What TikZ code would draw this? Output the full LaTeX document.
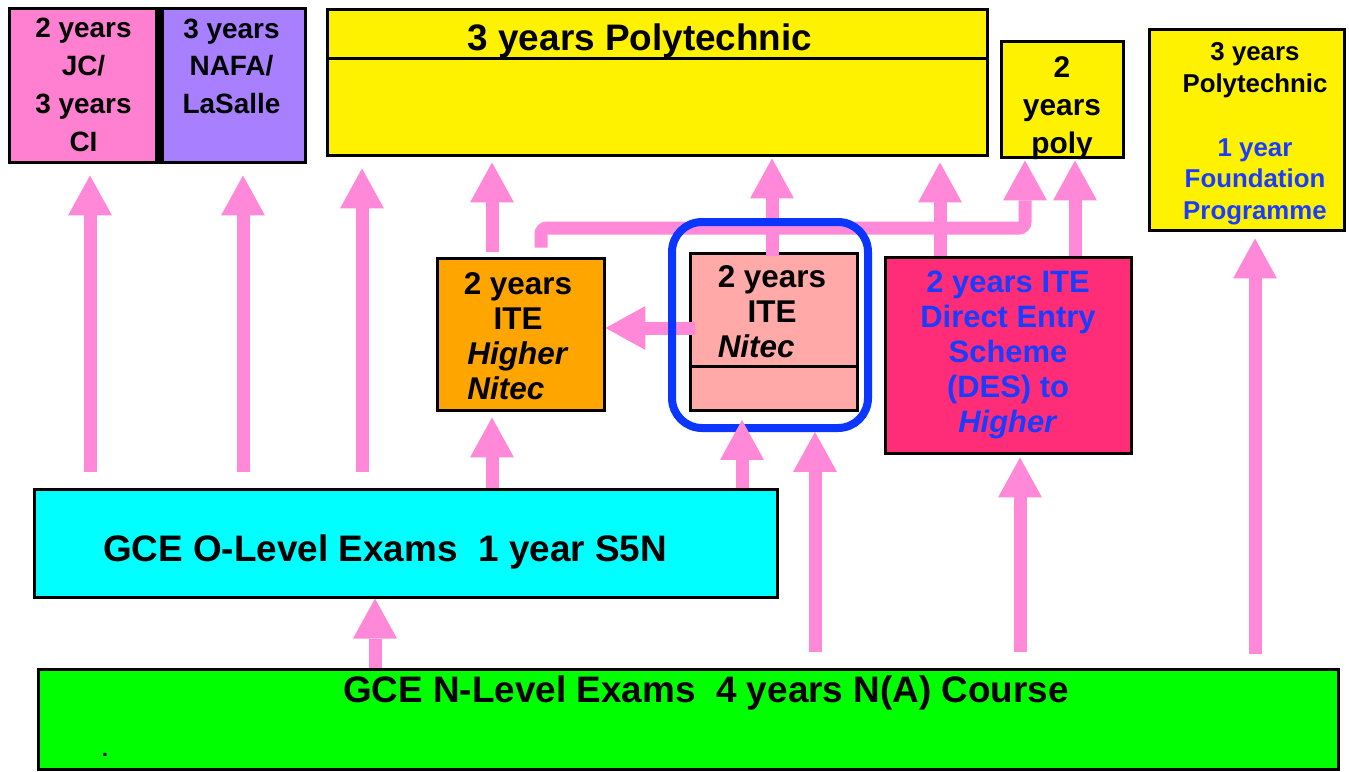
\documentclass[tikz,border=0pt]{standalone}
\usepackage{fontspec}
\setmainfont{Liberation Sans}
\usetikzlibrary{arrows.meta}

\newdimen\pxu \pxu=0.02cm
\definecolor{jcpink}{HTML}{FF80D0}
\definecolor{nafapurple}{HTML}{A880FF}
\definecolor{itenorange}{HTML}{FFA500}
\definecolor{nitecpink}{HTML}{FFAAA8}
\definecolor{desred}{HTML}{FF2D78}
\definecolor{olevelcyan}{HTML}{00FFFF}
\definecolor{nlevelgreen}{HTML}{00FF00}
\definecolor{textblue}{HTML}{1A3CFF}
\definecolor{frameblue}{HTML}{0A36FF}
\definecolor{flowpink}{HTML}{FF88D8}
\newcommand{\fs}[2]{\fontsize{#1}{#2}\selectfont\bfseries}

\begin{document}
\begin{tikzpicture}[x=0.02cm,y=-0.02cm,
  box/.style={draw,line width=3\pxu,inner sep=0,align=center},
  up/.style={draw=flowpink,line width=13\pxu,-{Triangle[width=0.88cm,length=0.8cm,line width=0pt]}}]
\useasboundingbox (0,0) rectangle (1349,771);
% top row
\node[box,fill=jcpink,minimum width=149\pxu,minimum height=154\pxu,font=\fs{15.9}{21.5}] (jc) at (83.5,85) {2 years\\JC/\\3 years\\CI};
\node[box,fill=nafapurple,minimum width=147\pxu,minimum height=154\pxu,font=\fs{15.9}{21.5}] (nafa) at (231.5,85) {3 years\\NAFA/\\LaSalle\\\mbox{}};
\draw[line width=9\pxu] (jc.north east) -- (jc.south east);
\node[box,fill=yellow,minimum width=660\pxu,minimum height=49\pxu] (polyhead) at (657,33.5) {};
\node[font=\fs{21}{24}] (polytext) at (640,41) {3 years Polytechnic};
\node[box,fill=yellow,minimum width=660\pxu,minimum height=97\pxu] (polybody) at (657,106.5) {};
\node[box,fill=yellow,minimum width=122\pxu,minimum height=116\pxu] (poly2) at (1062,99) {};
\node[font=\fs{17}{21.5},align=center] (poly2text) at (1062,108) {2\\years\\poly};
\node[box,fill=yellow,minimum width=195\pxu,minimum height=201\pxu] (found) at (1246.5,129.5) {};
\node[font=\fs{14.7}{18.1},align=center] (foundtext) at (1255,134)
  {3 years\\Polytechnic\\\mbox{}\\\textcolor{textblue}{1 year}\\\textcolor{textblue}{Foundation}\\\textcolor{textblue}{Programme}};
% middle row
\node[box,fill=itenorange,minimum width=167\pxu,minimum height=152\pxu] (hnitec) at (520.5,334) {};
\node[font=\fs{17.9}{20},align=center] (hnitectext) at (518,339)
  {2 years\\ITE\\\textit{Higher}\\\rlap{\textit{Nitec}}\phantom{\textit{Higher}}};
\node[box,fill=nitecpink,minimum width=167\pxu,minimum height=113\pxu] (nitecup) at (773.5,309.5) {};
\node[font=\fs{17.9}{19.8},align=center] (nitectext) at (772,315)
  {2 years\\ITE\\\rlap{\textit{Nitec}}\phantom{2 years}};
\node[box,fill=nitecpink,minimum width=167\pxu,minimum height=44\pxu] (niteclow) at (773.5,388) {};
\node[box,fill=desred,text=textblue,minimum width=246\pxu,minimum height=196\pxu,font=\fs{17.6}{19.9}] (des) at (1008,355)
  {2 years ITE\\Direct Entry\\Scheme\\(DES) to\\\textit{Higher}};
% bottom rows
\node[box,fill=olevelcyan,minimum width=743\pxu,minimum height=108\pxu] (olevel) at (405.5,543) {};
\node[font=\fs{21}{24}] (oltext) at (385,552) {GCE O-Level Exams~~1 year S5N};
\node[box,fill=nlevelgreen,minimum width=1300\pxu,minimum height=100\pxu] (nlevel) at (688,719) {};
\node[font=\fs{21}{24}] (nltext) at (706,693) {GCE N-Level Exams~~4 years N(A) Course};
\node[font=\fs{12}{14}] (dot) at (105,755) {.};
% arrows
\foreach \n/\x in {jc/90,nafa/243,polybody/362}
  \draw[up,shorten <=16\pxu,shorten >=12\pxu] (olevel.north -| \x,0) -- (\n.south -| \x,0);
\draw[up,shorten >=6\pxu] (olevel.north -| 492,0) -- (hnitec.south -| 492,0);
\draw[up,shorten <=5\pxu,shorten >=6\pxu] (hnitec.north -| 492,0) -- (polybody.south -| 492,0);
\draw[up,shorten <=9\pxu,shorten >=2\pxu,rounded corners=6\pxu] (hnitec.north -| 541,0) |- (1025,228) -- (poly2.south -| 1025,0);
\draw[up,shorten <=-4\pxu,shorten >=2\pxu] (nitecup.north -| 772,0) -- (polybody.south -| 772,0);
\draw[up,shorten >=6\pxu] (des.north -| 940,0) -- (polybody.south -| 940,0);
\draw[up,shorten >=2\pxu] (des.north -| 1075,0) -- (poly2.south -| 1075,0);
\coordinate (nitecout) at (695,328);
\draw[up] (nitecout) -- (hnitec.east |- nitecout);
\draw[up] (nlevel.north -| 375,0) -- (olevel.south -| 375,0);
\draw[up,shorten <=16\pxu,shorten >=3\pxu] (nlevel.north -| 1020,0) -- (des.south -| 1020,0);
\draw[up,shorten <=14\pxu,shorten >=7\pxu] (nlevel.north -| 1255,0) -- (found.south -| 1255,0);
% blue frame round the Nitec box
\node[draw=frameblue,line width=8\pxu,rounded corners=30\pxu,minimum width=196\pxu,minimum height=206\pxu] (frame) at (770,325) {};
\draw[up,shorten >=-12\pxu] (olevel.north -| 742,0) -- (frame.south -| 742,0);
\draw[up,shorten <=16\pxu] (nlevel.north -| 815,0) -- (frame.south -| 815,0);
\end{tikzpicture}
\end{document}
